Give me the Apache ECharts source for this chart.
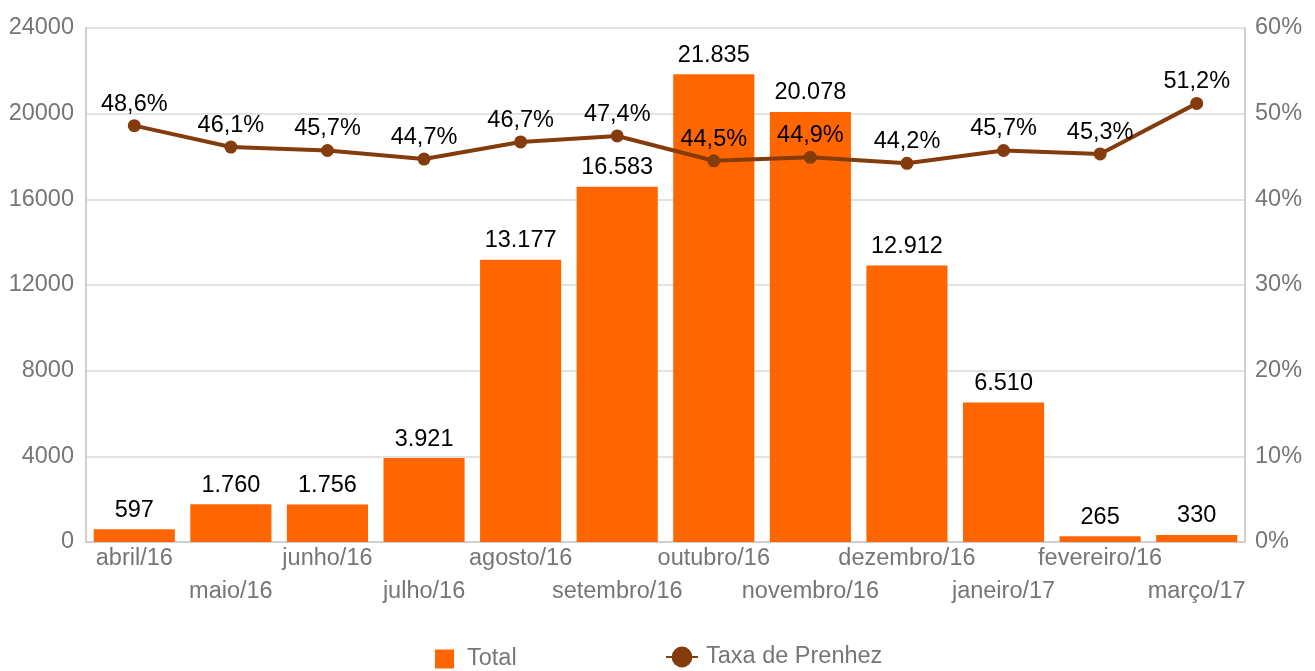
<!DOCTYPE html>
<html><head><meta charset="utf-8">
<script src="https://cdn.jsdelivr.net/npm/echarts@6/dist/echarts.min.js"></script>
<style>html,body{margin:0;padding:0;background:#fff}#c{width:1315px;height:671px}</style>
</head><body><div id="c"></div>
<script>
const categories = ['abril/16','maio/16','junho/16','julho/16','agosto/16','setembro/16','outubro/16','novembro/16','dezembro/16','janeiro/17','fevereiro/16','março/17'];
const totals = [597, 1760, 1756, 3921, 13177, 16583, 21835, 20078, 12912, 6510, 265, 330];
const taxa = [48.6, 46.1, 45.7, 44.7, 46.7, 47.4, 44.5, 44.9, 44.2, 45.7, 45.3, 51.2];
const leftTicks = [0, 4000, 8000, 12000, 16000, 20000, 24000];
const rightTicks = [0, 10, 20, 30, 40, 50, 60];

const font = 'Liberation Sans, Arial, sans-serif';
const fs = 23.5;
function fmtThousands(v){ return String(v).replace(/\B(?=(\d{3})+(?!\d))/g, '.'); }
const chart = echarts.init(document.getElementById('c'));
chart.setOption({
  animation: false,
  textStyle: { fontFamily: font },
  grid: { left: 86, right: 70, top: 28, bottom: 129 },
  legend: [
    { left: 430, top: 642, itemWidth: 19, itemHeight: 19, itemGap: 10,
      textStyle: { color: '#767676', fontSize: fs, fontFamily: font, padding: [0,0,0,8] },
      data: [{ name: 'Total', icon: 'rect' }] },
    { left: 660, top: 640, itemWidth: 32, itemHeight: 26,
      textStyle: { color: '#767676', fontSize: fs, fontFamily: font, padding: [0,0,0,3] },
      data: [{ name: 'Taxa de Prenhez' }] }
  ],
  xAxis: {
    type: 'category', data: categories,
    axisLine: { lineStyle: { color: '#D0D0D0', width: 2 } },
    axisTick: { show: false },
    axisLabel: {
      interval: 0, color: '#767676', fontSize: fs, fontFamily: font, lineHeight: 33, margin: 0,
      formatter: (v, i) => (i % 2 === 1 ? '\n' + v : v)
    }
  },
  yAxis: [
    { type: 'value', min: 0, max: 24000, interval: 4000,
      axisLine: { show: true, lineStyle: { color: '#D0D0D0', width: 2 } },
      splitLine: { lineStyle: { color: '#D9D9D9', width: 1.5 } },
      axisLabel: { color: '#767676', fontSize: fs, fontFamily: font, margin: 12, formatter: v => String(v) } },
    { type: 'value', min: 0, max: 60, interval: 10,
      axisLine: { show: true, lineStyle: { color: '#D0D0D0', width: 2 } },
      splitLine: { show: false },
      axisLabel: { color: '#767676', fontSize: fs, fontFamily: font, margin: 10, formatter: v => v + '%' } }
  ],
  series: [
    { name: 'Total', type: 'bar', data: totals, yAxisIndex: 0, barCategoryGap: '16%',
      itemStyle: { color: '#FF6600' },
      label: { show: true, position: 'top', distance: 7, color: '#000', fontSize: fs, fontFamily: font,
        formatter: p => fmtThousands(p.value) } },
    { name: 'Taxa de Prenhez', type: 'line', data: taxa, yAxisIndex: 1,
      symbol: 'circle', symbolSize: 13,
      lineStyle: { color: '#843C0C', width: 4 },
      itemStyle: { color: '#843C0C' },
      label: { show: true, position: 'top', distance: 3, color: '#000', fontSize: fs, fontFamily: font,
        formatter: p => p.value.toFixed(1).replace('.', ',') + '%' } }
  ]
});
</script></body></html>
